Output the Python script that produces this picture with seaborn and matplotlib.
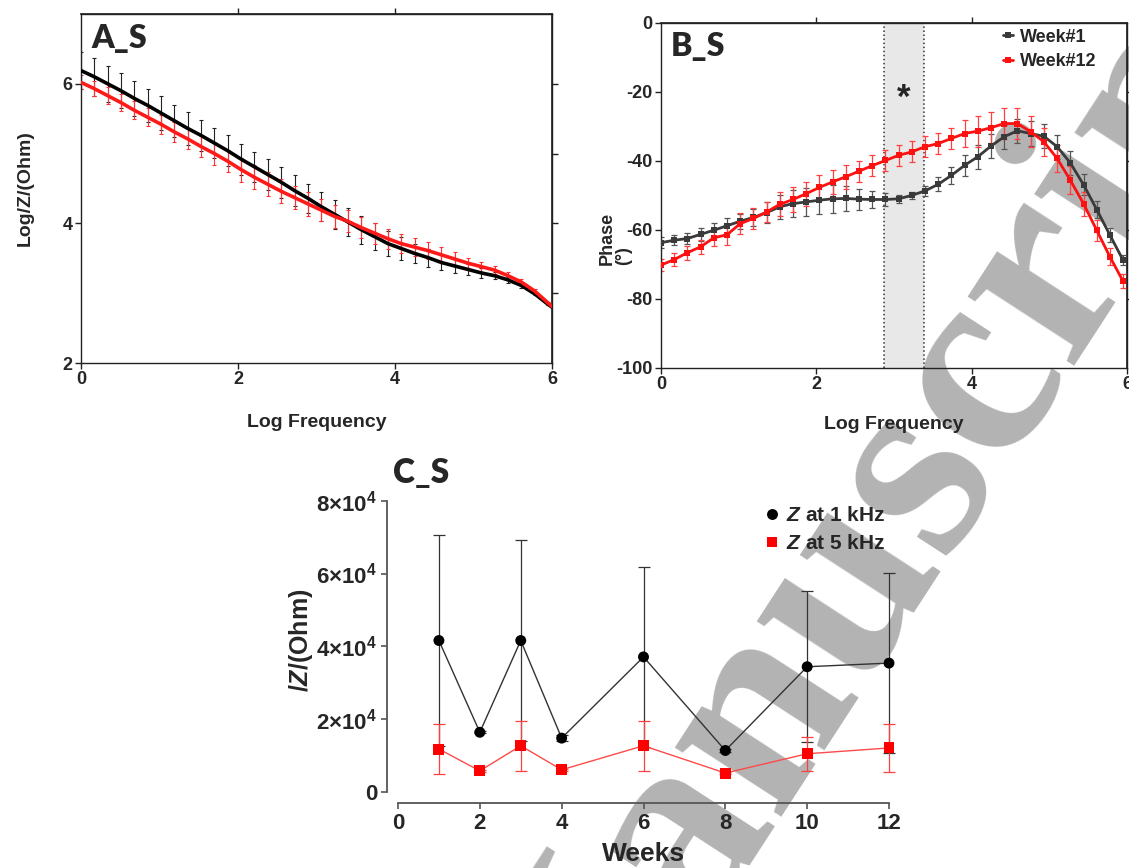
import numpy as np
import pandas as pd
import matplotlib
matplotlib.use("Agg")
import matplotlib.pyplot as plt
import seaborn as sns
from matplotlib.ticker import FuncFormatter

# ---------------- data ----------------
LOG_F = [0.00, 0.17, 0.34, 0.51, 0.68, 0.85, 1.02, 1.19, 1.36, 1.53, 1.70, 1.87,
         2.04, 2.21, 2.38, 2.55, 2.72, 2.89, 3.06, 3.23, 3.40, 3.57, 3.74, 3.91,
         4.08, 4.25, 4.42, 4.59, 4.76, 4.93, 5.10, 5.27, 5.44, 5.61, 5.78, 5.95]
LOG_F_END = [6.00]

# Panel A: Log|Z|
A_W1 = [6.19, 6.10, 6.00, 5.90, 5.79, 5.69, 5.58, 5.47, 5.36, 5.26, 5.15, 5.04,
        4.92, 4.81, 4.70, 4.59, 4.47, 4.36, 4.24, 4.13, 4.02, 3.91, 3.81, 3.71,
        3.64, 3.57, 3.51, 3.44, 3.39, 3.34, 3.29, 3.25, 3.19, 3.11, 2.99, 2.84]
A_W1_END = [2.80]
A_W12 = [6.02, 5.93, 5.83, 5.73, 5.62, 5.52, 5.42, 5.31, 5.21, 5.10, 5.00, 4.89,
         4.77, 4.66, 4.56, 4.46, 4.37, 4.28, 4.19, 4.10, 4.03, 3.94, 3.86, 3.78,
         3.71, 3.66, 3.61, 3.55, 3.49, 3.43, 3.38, 3.33, 3.25, 3.16, 3.03, 2.86]
A_W12_END = [2.81]
A_W1_ERR = [0.27, 0.27, 0.26, 0.25, 0.25, 0.24, 0.24, 0.23, 0.23, 0.22, 0.22, 0.22,
            0.22, 0.22, 0.22, 0.22, 0.22, 0.21, 0.21, 0.21, 0.20, 0.20, 0.19, 0.18,
            0.16, 0.14, 0.13, 0.11, 0.10, 0.08, 0.07, 0.05, 0.04, 0.03, 0.02, 0.01]
A_W12_ERR = [0.10, 0.11, 0.12, 0.12, 0.13, 0.13, 0.14, 0.14, 0.15, 0.15, 0.16, 0.16,
             0.17, 0.17, 0.17, 0.17, 0.17, 0.17, 0.16, 0.16, 0.16, 0.15, 0.15, 0.14,
             0.14, 0.13, 0.12, 0.11, 0.10, 0.08, 0.07, 0.06, 0.05, 0.04, 0.03, 0.02]

# Panel B: Phase
B_W1 = [-63.7, -63.0, -62.5, -61.3, -60.1, -58.8, -57.5, -56.4, -55.0, -53.3, -52.4, -51.9,
        -51.4, -51.0, -50.9, -51.1, -51.2, -51.2, -51.0, -50.0, -48.7, -46.8, -44.2, -41.3,
        -38.8, -35.7, -33.0, -31.3, -32.1, -32.9, -35.9, -40.6, -46.9, -54.1, -61.5, -68.8]
B_W12 = [-70.2, -68.6, -66.6, -64.9, -62.3, -61.4, -58.2, -56.7, -54.8, -52.6, -51.2, -49.5,
         -47.7, -46.1, -44.6, -43.0, -41.4, -39.9, -38.4, -37.4, -35.9, -35.0, -33.5, -32.1,
         -31.4, -30.4, -29.2, -29.2, -31.6, -34.5, -39.3, -45.6, -52.4, -60.1, -67.8, -74.9]
B_W1_ERR = [1.5, 1.5, 1.5, 1.8, 2.0, 2.2, 2.2, 2.5, 3.0, 3.5, 4.0, 4.0,
            4.0, 4.0, 3.5, 3.0, 2.5, 2.0, 1.2, 1.0, 1.5, 2.0, 2.5, 3.0,
            3.5, 3.5, 3.5, 3.5, 3.5, 3.5, 3.5, 3.5, 3.0, 2.5, 2.0, 1.5]
B_W12_ERR = [1.8, 1.8, 2.0, 2.0, 2.5, 3.0, 3.0, 3.0, 3.0, 3.5, 3.5, 3.5,
             3.5, 3.5, 3.5, 3.0, 3.0, 3.0, 3.0, 3.0, 3.0, 3.0, 3.0, 4.0,
             4.5, 4.5, 4.5, 4.5, 4.5, 4.0, 4.0, 4.0, 3.5, 3.0, 2.5, 2.0]
SIG_BAND = [2.87, 3.39]

# Panel C: |Z| over weeks
WEEKS = [1, 2, 3, 4, 6, 8, 10, 12]
Z_1KHZ = [41600, 16400, 41600, 14800, 37100, 11400, 34400, 35400]
Z_1KHZ_ERR = [29000, 300, 27600, 800, 24800, 300, 20800, 24800]
Z_5KHZ = [11800, 5800, 12700, 6100, 12700, 5200, 10500, 12100]
Z_5KHZ_ERR = [6900, 300, 6900, 300, 6900, 300, 4700, 6500]

# ---------------- style ----------------
sns.set_theme(style="ticks")
plt.rcParams["font.family"] = ["Liberation Sans", "DejaVu Sans"]
plt.rcParams["font.weight"] = "bold"
plt.rcParams["axes.labelweight"] = "bold"
plt.rcParams["axes.unicode_minus"] = False
plt.rcParams["mathtext.fontset"] = "custom"
plt.rcParams["mathtext.rm"] = "Liberation Sans:bold"
plt.rcParams["mathtext.bf"] = "Liberation Sans:bold"
plt.rcParams["mathtext.it"] = "Liberation Sans:italic:bold"

W, H = 1129, 868
fig = plt.figure(figsize=(W / 100, H / 100), dpi=100)
fig.patch.set_facecolor("white")

def box(l, t, r, b):
    return [l / W, 1 - b / H, (r - l) / W, (b - t) / H]

axA = fig.add_axes(box(81, 14, 552, 363))
axB = fig.add_axes(box(661, 22.7, 1127, 368))
axC = fig.add_axes(box(398, 500.7, 889, 792))
for ax in (axA, axB, axC):
    ax.set_facecolor("none")

# ---------------- watermark ----------------
fig.text(0.495, -0.328, "Manuscript", rotation=57, rotation_mode="anchor",
         ha="left", va="baseline", fontsize=199, family="Liberation Serif",
         fontweight="bold", color="#b3b3b3", zorder=-1)

# ---------------- Panel A ----------------
dfA = pd.concat([
    pd.DataFrame({"logf": LOG_F + LOG_F_END, "val": A_W1 + A_W1_END, "week": "Week#1"}),
    pd.DataFrame({"logf": LOG_F + LOG_F_END, "val": A_W12 + A_W12_END, "week": "Week#12"}),
])
axA.errorbar(LOG_F, A_W1, yerr=A_W1_ERR, fmt="none", ecolor="#222222",
             elinewidth=0.8, capsize=1.5, capthick=0.8, zorder=2)
axA.errorbar(LOG_F, A_W12, yerr=A_W12_ERR, fmt="none", ecolor="#ff3030",
             elinewidth=0.8, capsize=1.5, capthick=0.8, zorder=2)
sns.lineplot(data=dfA, x="logf", y="val", hue="week", hue_order=["Week#1", "Week#12"],
             palette={"Week#1": "black", "Week#12": "#ff1a1a"}, linewidth=2.6,
             estimator=None, sort=False, legend=False, ax=axA, zorder=3)
axA.set_xlim(0, 6)
axA.set_ylim(2, 7)
axA.set_xticks([0, 2, 4, 6])
axA.set_yticks([2, 4, 6])
for s in axA.spines.values():
    s.set_visible(True)
    s.set_color("#222222")
    s.set_linewidth(1.0)
axA.tick_params(axis="both", labelsize=13, length=4, width=1, color="#222222", pad=2)
secx = axA.secondary_xaxis("top")
secx.set_xticks([2, 4])
secx.tick_params(labeltop=False, length=4, width=1, color="#222222")
secy = axA.secondary_yaxis("right")
secy.set_yticks([3, 4, 5, 6])
secy.tick_params(labelright=False, length=4, width=1, color="#222222")
axA.set_xlabel("Log Frequency", fontsize=14, fontweight="bold")
axA.xaxis.set_label_coords(0.5, -0.145)
axA.set_ylabel("Log/Z/(Ohm)", fontsize=14, fontweight="bold")
axA.yaxis.set_label_coords(-0.10, 0.5)
axA.text(0.022, 0.972, "A_S", transform=axA.transAxes, ha="left", va="top",
         fontsize=23, fontweight="heavy", family="Lato")

# ---------------- Panel B ----------------
axB.axvspan(SIG_BAND[0], SIG_BAND[1], facecolor="#e8e8e8", edgecolor="none", zorder=0)
for xv in SIG_BAND:
    axB.axvline(xv, color="#333333", linestyle=":", linewidth=1.1, zorder=1)
dfB = pd.concat([
    pd.DataFrame({"logf": LOG_F, "val": B_W1, "week": "Week#1"}),
    pd.DataFrame({"logf": LOG_F, "val": B_W12, "week": "Week#12"}),
])
axB.errorbar(LOG_F, B_W1, yerr=B_W1_ERR, fmt="none", ecolor="#555555",
             elinewidth=0.9, capsize=2, capthick=0.9, zorder=2)
axB.errorbar(LOG_F, B_W12, yerr=B_W12_ERR, fmt="none", ecolor="#ff4040",
             elinewidth=0.9, capsize=2, capthick=0.9, zorder=2)
sns.lineplot(data=dfB, x="logf", y="val", hue="week", hue_order=["Week#1", "Week#12"],
             palette={"Week#1": "#3a3a3a", "Week#12": "#ff1010"}, linewidth=2.0,
             marker="s", markersize=4, markeredgewidth=0, estimator=None, sort=False,
             ax=axB, zorder=3)
hB, lB = axB.get_legend_handles_labels()
axB.legend(hB, lB, loc="upper left", bbox_to_anchor=(0.888, 0.967),
           bbox_transform=fig.transFigure, frameon=False,
           handlelength=0.6, handletextpad=0.35, labelspacing=0.42, borderpad=0,
           borderaxespad=0, prop={"weight": "bold", "size": 13})
axB.set_xlim(0, 6)
axB.set_ylim(-100, 0)
axB.set_xticks([0, 2, 4, 6])
axB.set_yticks([0, -20, -40, -60, -80, -100])
for s in axB.spines.values():
    s.set_visible(True)
    s.set_color("#222222")
    s.set_linewidth(1.0)
axB.tick_params(axis="both", labelsize=13, length=4, width=1, color="#222222", pad=2)
secxB = axB.secondary_xaxis("top")
secxB.set_xticks([2, 4])
secxB.tick_params(labeltop=False, length=4, width=1, color="#222222")
secyB = axB.secondary_yaxis("right")
secyB.set_yticks([-20, -40, -60, -80])
secyB.tick_params(labelright=False, length=4, width=1, color="#222222")
axB.text(3.12, -21.8, "*", ha="center", va="center", fontsize=25, fontweight="bold")
axB.set_xlabel("Log Frequency", fontsize=14, fontweight="bold")
axB.xaxis.set_label_coords(0.5, -0.138)
axB.set_ylabel("Phase\n(°)", fontsize=13, fontweight="bold", multialignment="left",
               linespacing=0.95)
axB.yaxis.set_label_coords(-0.062, 0.375)
axB.text(0.02, 0.972, "B_S", transform=axB.transAxes, ha="left", va="top",
         fontsize=23, fontweight="heavy", family="Lato")

# ---------------- Panel C ----------------
dfC = pd.concat([
    pd.DataFrame({"week": WEEKS, "z": Z_1KHZ, "freq": "$Z$ at 1 kHz"}),
    pd.DataFrame({"week": WEEKS, "z": Z_5KHZ, "freq": "$Z$ at 5 kHz"}),
])
axC.errorbar(WEEKS, Z_1KHZ, yerr=Z_1KHZ_ERR, fmt="none", ecolor="#333333",
             elinewidth=0.9, capsize=4, capthick=0.9, zorder=2, clip_on=False)
axC.errorbar(WEEKS, Z_5KHZ, yerr=Z_5KHZ_ERR, fmt="none", ecolor="#ff4040",
             elinewidth=0.9, capsize=4, capthick=0.9, zorder=2, clip_on=False)
sns.lineplot(data=dfC, x="week", y="z", hue="freq",
             palette={"$Z$ at 1 kHz": "#333333", "$Z$ at 5 kHz": "#ff4a4a"},
             linewidth=1.0, estimator=None, sort=False, legend=False, ax=axC, zorder=3)
sns.scatterplot(data=dfC, x="week", y="z", hue="freq", style="freq",
                markers={"$Z$ at 1 kHz": "o", "$Z$ at 5 kHz": "s"},
                palette={"$Z$ at 1 kHz": "black", "$Z$ at 5 kHz": "#ff0000"},
                s=62, linewidth=0, ax=axC, zorder=4, clip_on=False)
hC, lC = axC.get_legend_handles_labels()
axC.legend(hC, lC, loc="upper left", bbox_to_anchor=(0.676, 0.417),
           bbox_transform=fig.transFigure, frameon=False,
           handlelength=0.8, handletextpad=0.3, labelspacing=0.42, borderpad=0,
           borderaxespad=0, prop={"weight": "bold", "size": 15})
axC.set_xlim(0, 12)
axC.set_ylim(0, 80000)
axC.set_xticks([0, 2, 4, 6, 8, 10, 12])
axC.set_yticks([0, 20000, 40000, 60000, 80000])
axC.yaxis.set_major_formatter(FuncFormatter(
    lambda v, p: "0" if v == 0 else r"$%d{\times}10^{4}$" % int(round(v / 10000))))
sns.despine(ax=axC, offset=8, trim=True)
for s in ("left", "bottom"):
    axC.spines[s].set_color("#555555")
    axC.spines[s].set_linewidth(1.3)
axC.tick_params(axis="both", labelsize=16, length=4, width=1.2, color="#555555", pad=3)
axC.set_xlabel("Weeks", fontsize=19, fontweight="bold")
axC.xaxis.set_label_coords(0.5, -0.17)
axC.set_ylabel("$/Z/$(Ohm)", fontsize=18, fontweight="bold")
axC.yaxis.set_label_coords(-0.17, 0.52)
fig.text(393 / W, 1 - 457 / H, "C_S", ha="left", va="top", fontsize=24,
         fontweight="heavy", family="Lato")

fig.savefig("out.png", dpi=100)
